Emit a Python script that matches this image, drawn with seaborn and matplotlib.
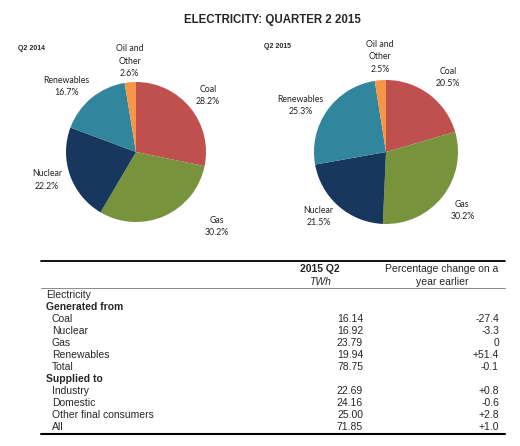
import numpy as np
import pandas as pd
import matplotlib
matplotlib.use('Agg')
import matplotlib.pyplot as plt
import seaborn as sns

sns.set_style('white')
plt.rcParams['font.family'] = ['Liberation Sans', 'DejaVu Sans']

# data
fuels = ['Coal', 'Gas', 'Nuclear', 'Renewables', 'Oil and\nOther']
share_2014 = [28.2, 30.2, 22.2, 16.7, 2.6]
share_2015 = [20.5, 30.2, 21.5, 25.3, 2.5]
fuel_colors = ['#C0504D', '#77933C', '#17375E', '#31859C', '#F79646']

row_labels = ['Electricity', 'Generated from', 'Coal', 'Nuclear', 'Gas', 'Renewables', 'Total',
              'Supplied to', 'Industry', 'Domestic', 'Other final consumers', 'All']
row_kind = ['plain', 'bold', 'item', 'item', 'item', 'item', 'item',
            'bold', 'item', 'item', 'item', 'item']
twh = ['', '', '16.14', '16.92', '23.79', '19.94', '78.75', '', '22.69', '24.16', '25.00', '71.85']
pct_change = ['', '', '-27.4', '-3.3', '0', '+51.4', '-0.1', '', '+0.8', '-0.6', '+2.8', '+1.0']

fig = plt.figure(figsize=(5.2, 4.46), dpi=100)
W, H = 520, 446

# background axis in pixel coords for title + table
bg = fig.add_axes([0, 0, 1, 1])
bg.set_xlim(0, W)
bg.set_ylim(H, 0)
bg.axis('off')

bg.text(272, 20, 'ELECTRICITY: QUARTER 2 2015', ha='center', va='center',
        fontsize=8.3, fontweight='bold')
bg.text(18, 49, 'Q2 2014', ha='left', va='center', fontsize=5, fontweight='bold')
bg.text(264, 47, 'Q2 2015', ha='left', va='center', fontsize=5, fontweight='bold')


def draw_pie(cx, cy, r, values, label_pos):
    ax = fig.add_axes([(cx - r) / W, (H - cy - r) / H, 2 * r / W, 2 * r / H])
    ax.pie(values, colors=fuel_colors, startangle=90, counterclock=False,
           wedgeprops=dict(linewidth=0))
    ax.set_xlim(-1, 1)
    ax.set_ylim(-1, 1)
    ax.set_aspect('equal')
    for name, val, (lx, ly) in zip(fuels, values, label_pos):
        ax.text(lx, ly, f'{name}\n{val:.1f}%', ha='center', va='center',
                fontsize=6.3, family=['Lato', 'DejaVu Sans'], color='#222222',
                linespacing=1.45)


draw_pie(136, 152, 70, share_2014,
         [(1.03, 0.81), (1.16, -1.07), (-1.27, -0.40), (-1.0, 0.93), (-0.09, 1.30)])
draw_pie(386, 152, 72, share_2015,
         [(0.86, 1.03), (1.06, -0.81), (-0.94, -0.90), (-1.19, 0.65), (-0.08, 1.32)])

# table
fs = 7.5
bg.plot([41, 505], [261, 261], color='black', lw=1.3)
bg.plot([41, 505], [288, 288], color='#777777', lw=0.6)
bg.plot([41, 505], [434, 434], color='black', lw=1.5)
bg.text(320, 269, '2015 Q2', ha='center', va='center', fontsize=fs, fontweight='bold')
bg.text(320, 282, 'TWh', ha='center', va='center', fontsize=fs, fontstyle='italic')
bg.text(442, 269, 'Percentage change on a', ha='center', va='center', fontsize=fs)
bg.text(442, 282, 'year earlier', ha='center', va='center', fontsize=fs)

y0, dy = 294.5, 12.05
for i, (lab, kind, v, p) in enumerate(zip(row_labels, row_kind, twh, pct_change)):
    y = y0 + i * dy
    x = 52 if kind == 'item' else 46
    bg.text(x, y, lab, ha='left', va='center', fontsize=fs,
            fontweight='bold' if kind == 'bold' else 'normal')
    bg.text(363, y, v, ha='right', va='center', fontsize=fs)
    bg.text(499, y, p, ha='right', va='center', fontsize=fs)

fig.savefig('out.png', dpi=100)
